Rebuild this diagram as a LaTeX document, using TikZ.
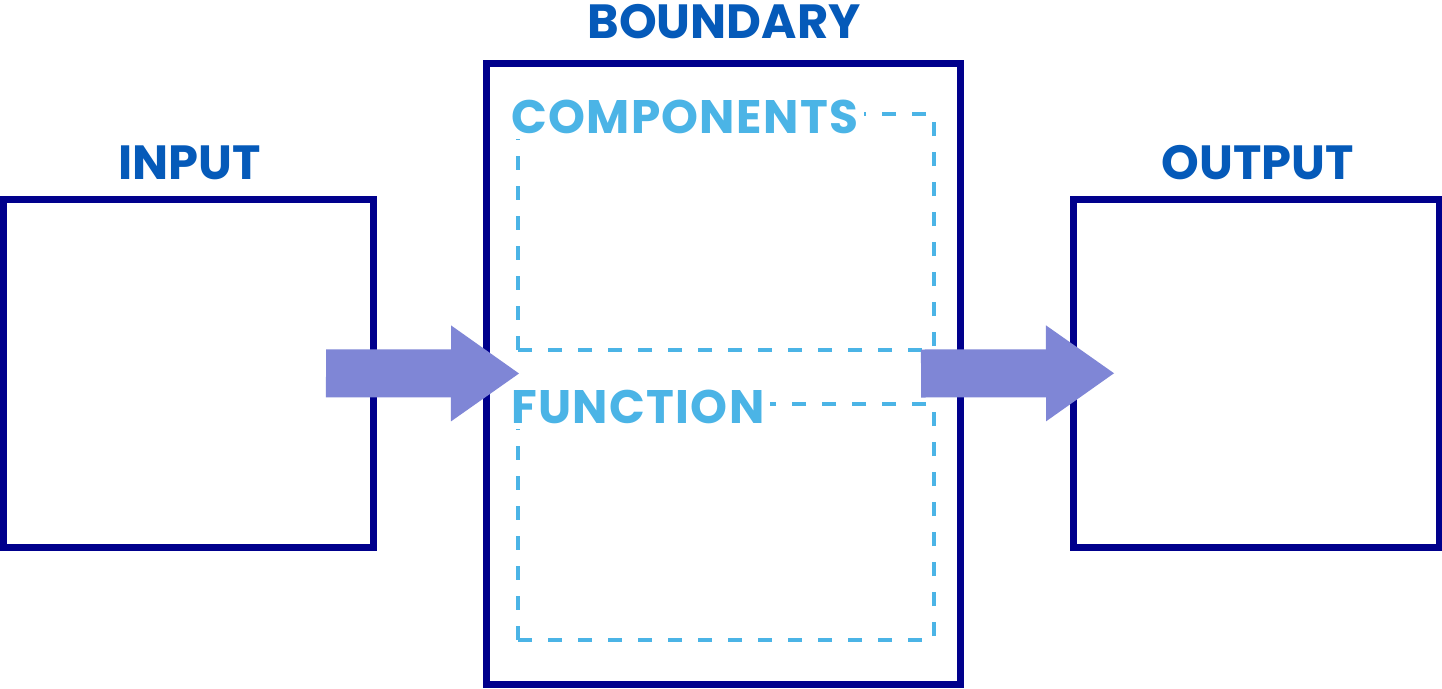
\documentclass[tikz,border=0pt]{standalone}
\usepackage{fontspec}
\setmainfont{Poppins}
\newfontfamily\partfont{Poppins}[LetterSpace=2.8]
\usetikzlibrary{arrows.meta}
\definecolor{boxnavy}{RGB}{0,0,140}
\definecolor{titleblue}{RGB}{5,90,185}
\definecolor{partblue}{RGB}{75,180,230}
\definecolor{flowblue}{RGB}{127,134,214}
\begin{document}
\begin{tikzpicture}[
  x=1pt, y=-1pt,
  box/.style={
    rectangle,
    draw=boxnavy,
    line width=7pt,
    fill=white,
    inner sep=0pt
  },
  part/.style={
    rectangle,
    draw=partblue,
    line width=3.5pt,
    dash pattern=on 14pt off 16pt,
    inner sep=0pt
  },
  title/.style={
    text=titleblue,
    font=\bfseries\fontsize{48}{48}\selectfont,
    inner sep=0pt,
    anchor=base
  },
  partlabel/.style={
    text=partblue,
    fill=white,
    font=\partfont\bfseries\fontsize{47}{47}\selectfont,
    inner sep=6pt,
    anchor=base west
  },
  flow/.style={
    draw=flowblue,
    line width=48pt,
    -{Triangle[length=68pt,width=96pt,line width=0pt]}
  }
]
    \useasboundingbox (0,0) rectangle (1442,688);
    \node[box, minimum width=370pt, minimum height=347.5pt] (input) at (188.5,373.25) {};
    \node[box, minimum width=473.5pt, minimum height=621pt] (boundary) at (723.25,373.5) {};
    \node[box, minimum width=366pt, minimum height=347.5pt] (output) at (1256,373.25) {};
    \node[title] (inputlabel) at (189.5,179) {INPUT};
    \node[title] (boundarylabel) at (724,38) {BOUNDARY};
    \node[title] (outputlabel) at (1258,179) {OUTPUT};
    \foreach \name/\y/\txt in {comp/232/COMPONENTS, func/522/FUNCTION}{
        \node[part, minimum width=416pt, minimum height=236pt] (\name) at (726,\y) {};
        \node[partlabel] (\name label) at (505,\y-99) {\txt};
    }
    \path[flow] ([xshift=-51pt]input.east) -- ([xshift=36pt]boundary.west);
    \path[flow] ([xshift=-42.5pt]boundary.east) -- ([xshift=44.5pt]output.west);
\end{tikzpicture}
\end{document}
